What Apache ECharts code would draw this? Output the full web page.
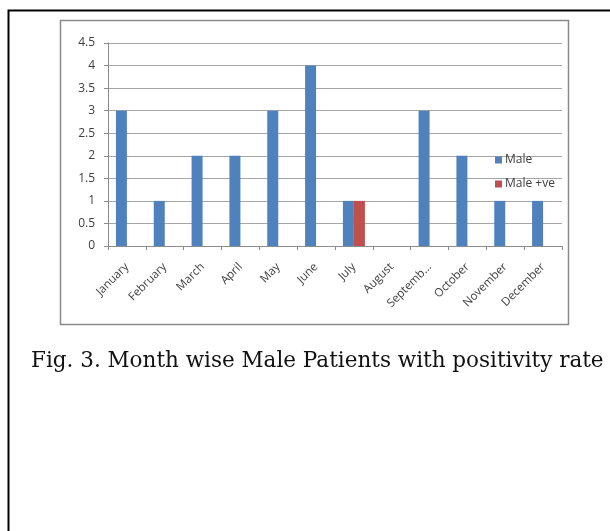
<!DOCTYPE html>
<html>
<head>
<meta charset="utf-8">
<script src="https://cdn.jsdelivr.net/npm/echarts@6/dist/echarts.min.js"></script>
<style>
  html, body { margin: 0; padding: 0; background: #fff; }
  #chart { width: 610px; height: 531px; }
</style>
</head>
<body>
<div id="chart"></div>
<script>
// Monthly counts of male patients and male positives
const months = ['January', 'February', 'March', 'April', 'May', 'June', 'July', 'August', 'September', 'October', 'November', 'December'];
const male = [3, 1, 2, 2, 3, 4, 1, 0, 3, 2, 1, 1];
const malePositive = [null, null, null, null, null, null, 1, null, null, null, null, null];
const yTicks = [0, 0.5, 1, 1.5, 2, 2.5, 3, 3.5, 4, 4.5];

const chart = echarts.init(document.getElementById('chart'));
const axisText = { color: '#404040', fontFamily: 'Open Sans, Liberation Sans, sans-serif' };

chart.setOption({
  animation: false,
  title: {
    text: 'Fig. 3. Month wise Male Patients with positivity rate',
    left: 26,
    top: 345,
    textStyle: { fontFamily: 'DejaVu Serif, serif', fontWeight: 'normal', fontSize: 21.5, color: '#111' }
  },
  graphic: [
    { type: 'rect', shape: { x: 8.5, y: 10.5, width: 700, height: 600 }, style: { fill: null, stroke: '#000', lineWidth: 2 } },
    { type: 'rect', shape: { x: 60.5, y: 20.5, width: 508, height: 304 }, style: { fill: null, stroke: '#8a8a8a', lineWidth: 1.5 } }
  ],
  legend: {
    orient: 'vertical',
    left: 490,
    top: 149,
    itemWidth: 7,
    itemHeight: 7,
    itemGap: 12,
    icon: 'rect',
    textStyle: Object.assign({ fontSize: 12, padding: [0, 0, 0, -2] }, axisText),
    data: ['Male', 'Male +ve']
  },
  grid: { left: 108, right: 48, top: 43, bottom: 285, containLabel: false },
  xAxis: {
    type: 'category',
    data: months,
    axisLine: { lineStyle: { color: '#8c8c8c' } },
    axisTick: { show: true, length: 4, lineStyle: { color: '#8c8c8c' } },
    axisLabel: Object.assign({
      rotate: 45, fontSize: 11.5, margin: 19, interval: 0,
      formatter: v => (v.length > 8 ? v.slice(0, 7) + '...' : v)
    }, axisText)
  },
  yAxis: {
    type: 'value',
    min: 0,
    max: yTicks[yTicks.length - 1],
    interval: 0.5,
    axisLine: { show: true, lineStyle: { color: '#8c8c8c' } },
    axisTick: { show: true, length: 4, lineStyle: { color: '#8c8c8c' } },
    splitLine: { lineStyle: { color: '#a6a6a6' } },
    axisLabel: Object.assign({ fontSize: 12, margin: 13 }, axisText)
  },
  series: [
    { name: 'Male', type: 'bar', data: male, barWidth: 11, barGap: '0%', itemStyle: { color: '#4f81bd' } },
    { name: 'Male +ve', type: 'bar', data: malePositive, barWidth: 11, barGap: '0%', itemStyle: { color: '#c0504d' } }
  ]
});
</script>
</body>
</html>
